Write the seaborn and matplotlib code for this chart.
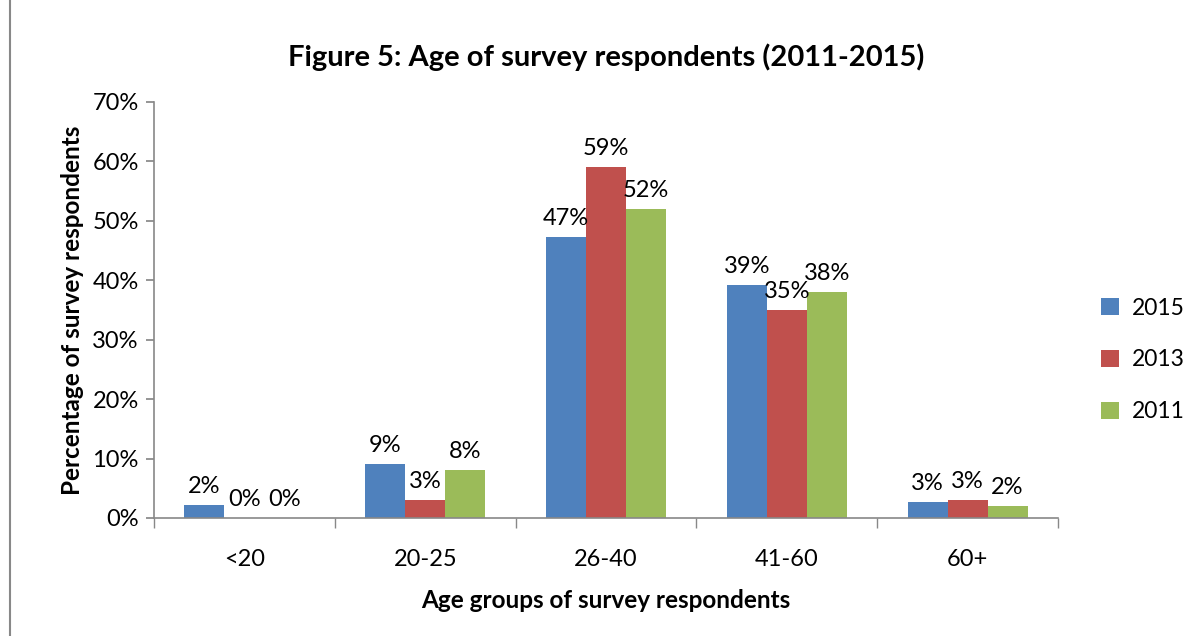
import matplotlib
matplotlib.use("Agg")
import matplotlib.pyplot as plt
import seaborn as sns
import pandas as pd
from matplotlib.lines import Line2D
from matplotlib.ticker import FuncFormatter, FixedLocator

categories = ["<20", "20-25", "26-40", "41-60", "60+"]
years = ["2015", "2013", "2011"]
v2015 = [2.2, 9.1, 47.3, 39.2, 2.7]
v2013 = [0.0, 3.0, 59.0, 35.0, 3.0]
v2011 = [0.0, 8.1, 52.0, 38.0, 2.0]
colors = ["#4F81BD", "#C0504D", "#9BBB59"]

rows = []
for yr, vals in zip(years, [v2015, v2013, v2011]):
    for c, v in zip(categories, vals):
        rows.append({"Age": c, "Year": yr, "Value": v})
df = pd.DataFrame(rows)

sns.set_theme(style="white")
plt.rcParams["font.family"] = ["Lato", "DejaVu Sans"]

fig = plt.figure(figsize=(11.96, 6.36), dpi=100)
ax = fig.add_axes([154/1196, 1-518/636, (1058-154)/1196, (518-102)/636])

sns.barplot(data=df, x="Age", y="Value", hue="Year", order=categories,
            hue_order=years, palette=colors, width=0.664, saturation=1,
            linewidth=0, edgecolor="none", ax=ax, legend=True)

for cont in ax.containers:
    ax.bar_label(cont, labels=[f"{round(b.get_height()):.0f}%" for b in cont],
                 padding=6, fontsize=17, color="black")

ax.set_xlim(-0.5, 4.5)
ax.set_ylim(0, 70)
ax.set_yticks(range(0, 71, 10))
ax.yaxis.set_major_formatter(FuncFormatter(lambda v, p: f"{v:.0f}%"))
ax.tick_params(axis="y", which="major", length=6, direction="out", color="#888888",
               left=True, labelsize=17, labelcolor="black", pad=5)
ax.tick_params(axis="x", which="major", length=0, labelsize=17, labelcolor="black", pad=22)
ax.xaxis.set_minor_locator(FixedLocator([i - 0.5 for i in range(6)]))
ax.tick_params(axis="x", which="minor", length=7, direction="out", color="#888888", bottom=True)

for s in ["top", "right"]:
    ax.spines[s].set_visible(False)
for s in ["left", "bottom"]:
    ax.spines[s].set_color("#888888")
    ax.spines[s].set_linewidth(1.2)

ax.set_xlabel("Age groups of survey respondents", fontsize=17.5, fontweight="bold",
              color="black", labelpad=14)
ax.set_ylabel("Percentage of survey respondents", fontsize=17.5, fontweight="bold",
              color="black", labelpad=6)

fig.text(606/1196, 1-57/636, "Figure 5: Age of survey respondents (2011-2015)",
         ha="center", va="center", fontsize=21, fontweight="bold", color="black")

leg = ax.legend(loc="center left", bbox_to_anchor=(1080/1196, 1-360/636),
                bbox_transform=fig.transFigure, frameon=False, fontsize=16.5,
                handlelength=0.8, handleheight=0.8, labelspacing=1.35, handletextpad=0.55)
for t in leg.get_texts():
    t.set_color("black")

fig.add_artist(Line2D([10/1196, 10/1196], [0, 1], transform=fig.transFigure,
                      color="#888888", linewidth=1.5))

fig.savefig("out.png", dpi=100)
